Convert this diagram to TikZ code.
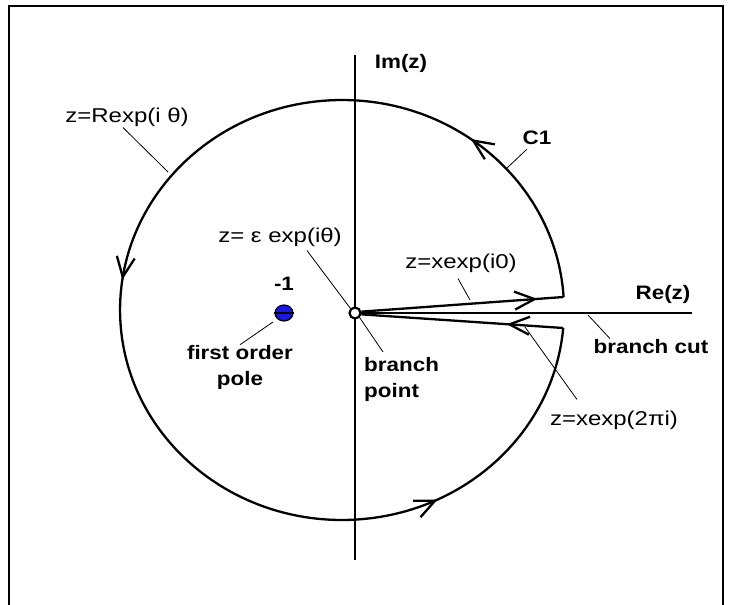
\documentclass[tikz,border=0pt]{standalone}
\usepackage{fontspec}
\setmainfont{Liberation Sans}[FakeStretch=1.15]
\newfontfamily\zfont{Liberation Sans}[FakeStretch=1.2]
\usepackage{xcolor}
\usetikzlibrary{arrows.meta,shapes.geometric,decorations.markings}

\definecolor{polefill}{RGB}{25,25,225}

\begin{document}
\begin{tikzpicture}[
    x=1pt, y=-1pt,
    axis/.style={line width=2.8pt},
    contour/.style={line width=2.3pt},
    leader/.style={line width=0.8pt},
    lbl/.style={inner sep=0pt, align=center, font=\fontsize{19.5}{26}\selectfont\bfseries},
    zlbl/.style={inner sep=0pt, font=\fontsize{20}{24}\selectfont\zfont},
    tipat/.style={postaction={decorate, decoration={markings,
        mark=at position #1 with {\arrow{Straight Barb[length=20pt,width=18pt]}}}}}
]
    \useasboundingbox (0,0) rectangle (732,605);
    % frame
    \draw[line width=2pt] (9,606) -- (9,6) -- (723,6) -- (723,606);

    % axes
    \coordinate (O) at (355,313);
    \coordinate (imTop) at (355,55);
    \coordinate (imBot) at (355,560);
    \coordinate (reEnd) at (692,313);
    \draw[axis] (imTop) -- (imBot);
    \draw[axis] (O) -- (reEnd);

    % keyhole contour
    \coordinate (A) at (563.6,297);
    \coordinate (B) at (563.2,328);
    \draw[contour, tipat=0.143, tipat=0.479, tipat=0.832]
        (A) arc[start angle=-3.55, end angle=-355.08, x radius=222, y radius=210];
    \node[circle, draw, line width=2.2pt, fill=white, minimum size=11pt, inner sep=0pt] (org) at (O) {};
    \draw[contour, tipat=0.87] (org.12) -- (A);
    \draw[contour, tipat=0.28] (B) -- (org.-12);

    % pole at -1
    \node[ellipse, draw, line width=1.2pt, fill=polefill, minimum width=18pt, minimum height=16pt, inner sep=0pt] (pole) at (284,313) {};
    \draw[line width=2pt] (pole.west) -- (pole.east);

    % labels
    \node[lbl] (imz) at (401,63) {Im(z)};
    \node[lbl] (rez) at (663,294) {Re(z)};
    \node[lbl] (c1) at (537,138) {C1};
    \node[lbl] (m1) at (284,284) {-1};
    \node[lbl] (fop) at (240,367) {first order\\pole};
    \node[lbl, align=left, anchor=north west] (bp) at (364,357) {branch\\point};
    \node[lbl] (bc) at (651,347) {branch cut};
    \node[zlbl] (rexp) at (127,117) {z=Rexp(i θ)};
    \node[zlbl] (eps) at (280,237) {z= ε exp(iθ)};
    \node[zlbl] (x0) at (461,263) {z=xexp(i0)};
    \node[zlbl] (x2pi) at (614,420) {z=xexp(2πi)};

    % leader lines
    \coordinate (rexpP) at (168,172);
    \coordinate (c1P) at (507,168);
    \coordinate (x0P) at (470,300);
    \coordinate (cutP) at (588,315);
    \coordinate (x2piP) at (525,327);
    \draw[leader] ([shift={(-4,1)}]rexp.south) -- (rexpP);
    \draw[leader] ([shift={(-10,4)}]c1.south) -- (c1P);
    \draw[leader] ([shift={(27,4)}]eps.south) -- (org.north west);
    \draw[leader] (org.south east) -- ([shift={(19,-5)}]bp.north west);
    \draw[leader] ([shift={(-3,6)}]x0.south) -- (x0P);
    \draw[leader, shorten <=5pt] (pole.south west) -- (fop.north);
    \draw[leader] (cutP) -- ([shift={(-41,-1)}]bc.north);
    \draw[leader] ([shift={(-37,-11)}]x2pi.north) -- (x2piP);
\end{tikzpicture}
\end{document}
